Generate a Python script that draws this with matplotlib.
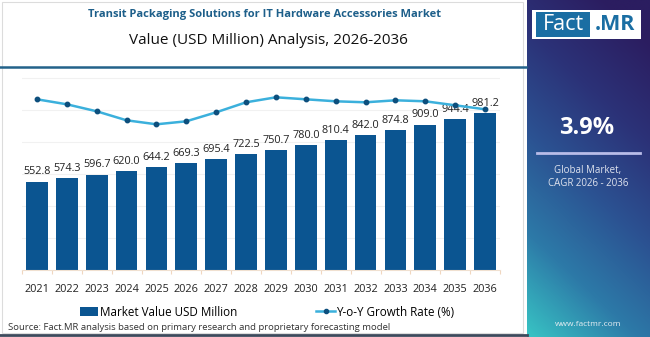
import numpy as np
import matplotlib
matplotlib.use("Agg")
import matplotlib.pyplot as plt
from matplotlib.colors import LinearSegmentedColormap
from matplotlib.lines import Line2D
from matplotlib.patches import Patch, Rectangle

plt.rcParams["font.family"] = ["Open Sans", "DejaVu Sans"]

years = ["2021", "2022", "2023", "2024", "2025", "2026", "2027", "2028",
         "2029", "2030", "2031", "2032", "2033", "2034", "2035", "2036"]
market_value = [552.8, 574.3, 596.7, 620.0, 644.2, 669.3, 695.4, 722.5,
                750.7, 780.0, 810.4, 842.0, 874.8, 909.0, 944.4, 981.2]
yoy_growth = [3.95, 3.90, 3.83, 3.74, 3.70, 3.73, 3.82, 3.92,
              3.97, 3.95, 3.93, 3.92, 3.94, 3.93, 3.89, 3.85]

title_main = "Transit Packaging Solutions for IT Hardware Accessories Market"
title_sub = "Value (USD Million) Analysis, 2026-2036"
cagr_text = "3.9%"
source_text = "Source: Fact.MR analysis based on primary research and proprietary forecasting model"

BAR_COLOR = "#0b5591"
LINE_COLOR = "#3bb0dc"
MARKER_COLOR = "#0d4f7d"
TITLE_COLOR = "#1d5f8a"

W, H = 650, 337
fig = plt.figure(figsize=(W / 100, H / 100), dpi=100)


def fx(px):
    return px / W


def fy(py):
    return 1 - py / H


# light frame around the chart block
fig.patches.append(Rectangle((fx(2), fy(333)), fx(521), 331 / H, transform=fig.transFigure,
                             fill=False, edgecolor="#dcdcdc", linewidth=0.8))

# titles and header rule
fig.text(fx(264), fy(15), title_main, ha="center", va="center", fontsize=8.0,
         fontweight="bold", color=TITLE_COLOR)
fig.text(fx(268), fy(40), title_sub, ha="center", va="center", fontsize=11, color="#111111")
fig.add_artist(Line2D([0, fx(526)], [fy(66.5)] * 2, color="#23628a", linewidth=1.8))

# main chart
ax = fig.add_axes([fx(22), fy(270), fx(478), (270 - 72) / H])
x = np.arange(len(years))
bars = ax.bar(x, market_value, width=0.73, color=BAR_COLOR, zorder=2)
ax.set_xlim(-0.5, len(years) - 0.5)
ax.set_ylim(0, 1237.5)
ax.set_yticks([200, 400, 600, 800, 1000, 1200])
ax.yaxis.grid(True, color="#f1f1f1", linewidth=0.8, zorder=0)
ax.set_yticklabels([])
ax.tick_params(axis="y", length=0)
ax.set_xticks(x)
ax.set_xticklabels(years, fontsize=7.8, color="#222222")
ax.tick_params(axis="x", length=0, pad=10)
ax.set_xticks(np.arange(-0.5, len(years)), minor=True)
ax.tick_params(axis="x", which="minor", length=3, color="#f0d7c0", width=0.8)
for side in ["top", "left", "right"]:
    ax.spines[side].set_visible(False)
ax.spines["bottom"].set_color("#f0e0d0")
ax.spines["bottom"].set_linewidth(0.8)

for bar, value in zip(bars, market_value):
    ax.annotate(f"{value:.1f}", (bar.get_x() + bar.get_width() / 2, value),
                xytext=(0, 3), textcoords="offset points", ha="center", va="bottom",
                fontsize=7.8, color="#222222", zorder=4)

ax2 = ax.twinx()
ax2.plot(x, yoy_growth, color=LINE_COLOR, linewidth=1.8, marker="o", markersize=3.2,
         markerfacecolor=MARKER_COLOR, markeredgecolor=MARKER_COLOR, zorder=3)
ax2.set_ylim(2.243, 4.223)
ax2.axis("off")

# legend
handles = [
    Patch(facecolor=BAR_COLOR, edgecolor="none", label="Market Value USD Million"),
    Line2D([0], [0], color=LINE_COLOR, linewidth=1.8, marker="o", markersize=3,
           markerfacecolor=MARKER_COLOR, markeredgecolor=MARKER_COLOR,
           label="Y-o-Y Growth Rate (%)"),
]
fig.legend(handles=handles, loc="center", bbox_to_anchor=(fx(267), fy(312)), ncol=2,
           frameon=False, fontsize=8.4, handlelength=1.6, handleheight=0.8,
           handletextpad=0.1, columnspacing=6.8, borderaxespad=0)

fig.text(fx(8), fy(327), source_text, ha="left", va="center", fontsize=6.8, color="#333333")
fig.add_artist(Line2D([0, fx(527)], [fy(334.5)] * 2, color="#3d4a5c", linewidth=2))

# right side panel with gradient
pax = fig.add_axes([fx(527), 0, fx(123), 1])
gx, gy = np.meshgrid(np.linspace(0, 1, 120), np.linspace(0, 1, 330))
mix = np.clip(0.82 * gy + 0.28 * gx, 0, 1)
cmap = LinearSegmentedColormap.from_list(
    "panel", ["#38c4c4", "#2d7aa8", "#2b5292", "#2c3278", "#2b1d60"])
pax.imshow(mix, cmap=cmap, origin="lower", extent=[0, 1, 0, 1], aspect="auto")
pax.set_xlim(0, 1)
pax.set_ylim(0, 1)
pax.axis("off")

fig.patches.append(Rectangle((fx(532), fy(39)), fx(109), 29 / H, transform=fig.transFigure,
                             facecolor="white", edgecolor="none", zorder=3))
fig.patches.append(Rectangle((fx(536), fy(36.5)), fx(54), 24 / H, transform=fig.transFigure,
                             facecolor="#1a6ea3", edgecolor="none", zorder=4))
fig.text(fx(563), fy(24.5), "Fact", ha="center", va="center", fontsize=15.5,
         color="white", zorder=5)
fig.text(fx(615), fy(24.5), ".MR", ha="center", va="center", fontsize=15.5,
         fontweight="bold", color="#1a6ea3", zorder=5)

fig.text(fx(587), fy(128), cagr_text, ha="center", va="center", fontsize=17,
         fontweight="bold", color="white")
fig.add_artist(Line2D([fx(537), fx(640)], [fy(153)] * 2, color="#b9bce8", linewidth=2))
fig.text(fx(588), fy(170), "Global Market,", ha="center", va="center", fontsize=7,
         color="#dfe3ee")
fig.text(fx(588), fy(183.5), "CAGR 2026 - 2036", ha="center", va="center", fontsize=7,
         color="#dfe3ee")
fig.text(fx(588), fy(324), "www.factmr.com", ha="center", va="center", fontsize=6,
         color="#e6eef3")

fig.savefig("out.png", dpi=100)
